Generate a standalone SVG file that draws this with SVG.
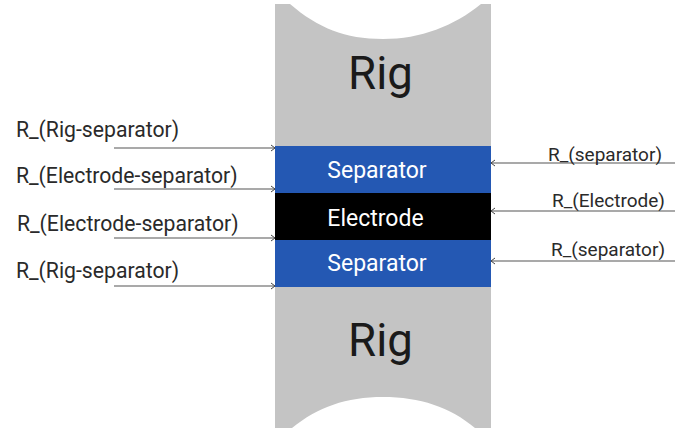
<svg xmlns="http://www.w3.org/2000/svg" width="675" height="433" viewBox="0 0 675 433">
<defs>
<marker id="arr" markerWidth="6" markerHeight="8" refX="5" refY="4" orient="auto" markerUnits="userSpaceOnUse"><path d="M1 1 L5 4 L1 7" fill="none" stroke="#444" stroke-width="1"/></marker>
</defs>
<style>
text{font-family:Roboto,"Liberation Sans",sans-serif}
.l{font-size:21.2px;fill:#2a2a2a}
.s{font-size:19px;fill:#2a2a2a}
.w{font-size:23px;fill:#fff;text-anchor:middle}
.r{font-size:45.6px;fill:#1a1a1a;text-anchor:middle}
.c{stroke:#555;stroke-width:1.2;fill:none;marker-end:url(#arr)}
</style>
<rect width="675" height="433" fill="#fff"/>
<g id="rig-top"><path d="M275 4 H290 C318 28 345 39 383 39 C421 39 454 26 481 4 H491 V146 H275 Z" fill="#c4c4c4"/><text class="r" x="380.500" y="89">Rig</text></g>
<g id="rig-bottom"><path d="M275 287 H491 V428 H475 C450 407 420 397 383 397 C346 397 318 407 292 428 H275 Z" fill="#c4c4c4"/><text class="r" x="380.500" y="356">Rig</text></g>
<g id="separator-top"><rect x="275" y="146" width="216" height="47" fill="#2458b3"/><text class="w" x="377" y="178">Separator</text></g>
<g id="electrode"><rect x="275" y="193" width="216" height="47" fill="#000"/><text class="w" x="375.500" y="226">Electrode</text></g>
<g id="separator-bottom"><rect x="275" y="240" width="216" height="47" fill="#2458b3"/><text class="w" x="377" y="271">Separator</text></g>
<g id="connectors">
<path class="c" d="M114 148 H275"/>
<path class="c" d="M114 189 H275"/>
<path class="c" d="M114 238 H275"/>
<path class="c" d="M114 286 H275"/>
<path class="c" d="M675 163 H491"/>
<path class="c" d="M675 211 H491"/>
<path class="c" d="M675 261 H491"/>
</g>
<g id="labels">
<text class="l" x="16" y="137">R_(Rig-separator)</text>
<text class="l" x="16" y="183">R_(Electrode-separator)</text>
<text class="l" x="17" y="231">R_(Electrode-separator)</text>
<text class="l" x="16" y="278">R_(Rig-separator)</text>
<text class="s" x="548" y="161">R_(separator)</text>
<text class="s" x="552" y="207">R_(Electrode)</text>
<text class="s" x="551" y="256">R_(separator)</text>
</g>
</svg>
